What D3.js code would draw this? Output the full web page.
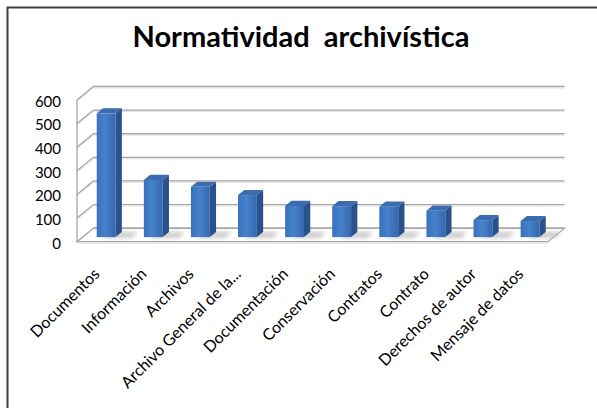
<!DOCTYPE html>
<html>
<head>
<meta charset="utf-8">
<script src="https://cdn.jsdelivr.net/npm/d3@7"></script>
<style>
  html, body { margin: 0; padding: 0; background: #fff; }
  svg { display: block; }
</style>
</head>
<body>
<script>
// data
const title = "Normatividad  archivística";
const categories = [
  "Documentos", "Información", "Archivos", "Archivo General de la...",
  "Documentación", "Conservación", "Contratos", "Contrato",
  "Derechos de autor", "Mensaje de datos"
];
const values = [524, 242, 213, 178, 132, 131, 129, 112, 72, 68];
const yTicks = [0, 100, 200, 300, 400, 500, 600];

const width = 597, height = 408;
const font = "Lato, 'Open Sans', sans-serif";

// 3d box: front plane and depth offset
const depth = { dx: 16.5, dy: -13.5 };
const barFront = 0.34, barDepth = 0.38;

const x = d3.scaleBand().domain(categories).range([77, 548]).padding(0);
const y = d3.scaleLinear().domain([0, 600]).range([241.7, 100]);

const svg = d3.select("body").append("svg")
  .attr("width", width)
  .attr("height", height);

const defs = svg.append("defs");
const grad = defs.append("linearGradient")
  .attr("id", "front").attr("x1", 0).attr("y1", 0).attr("x2", 1).attr("y2", 0);
grad.append("stop").attr("offset", "0%").attr("stop-color", "#3a70bb");
grad.append("stop").attr("offset", "45%").attr("stop-color", "#4682cc");
grad.append("stop").attr("offset", "100%").attr("stop-color", "#3667ad");
defs.append("filter").attr("id", "blur")
  .attr("x", "-50%").attr("y", "-50%").attr("width", "200%").attr("height", "200%")
  .append("feGaussianBlur").attr("stdDeviation", 2.2);

// chart border (only top and left visible in crop)
svg.append("path")
  .attr("d", `M7.5,${height + 5}V7.5H${width + 5}`)
  .attr("fill", "none")
  .attr("stroke", "#3f3f3f")
  .attr("stroke-width", 2);

// title
svg.append("text")
  .attr("x", 301)
  .attr("y", 47)
  .attr("text-anchor", "middle")
  .attr("font-family", font)
  .attr("font-weight", "bold")
  .attr("font-size", 29)
  .attr("fill", "#000")
  .style("white-space", "pre")
  .text(title);

const x0 = x.range()[0], x1 = x.range()[1];
const p = (px, py, t) => [px + depth.dx * t, py + depth.dy * t];
const poly = (pts) => "M" + pts.map((d) => d.join(",")).join("L") + "Z";

// floor
const grid = svg.append("g").attr("fill", "none");
grid.append("path")
  .attr("d", poly([p(x0, y(0), 0), p(x1, y(0), 0), p(x1, y(0), 1), p(x0, y(0), 1)]))
  .attr("fill", "#fff")
  .attr("stroke", "#a6a6a6")
  .attr("stroke-width", 1.3);
grid.append("line")
  .attr("x1", x0).attr("x2", x1)
  .attr("y1", y(0) + 1.5).attr("y2", y(0) + 1.5)
  .attr("stroke", "#dcdcdc");

// gridlines: back wall + side wall
yTicks.forEach((v) => {
  const a = p(x0, y(v), 0), b = p(x0, y(v), 1), c = p(x1, y(v), 1);
  if (v > 0) {
    grid.append("path")
      .attr("d", `M${a}L${b}L${c}`)
      .attr("stroke", "#a3a3a3")
      .attr("stroke-width", 1.3);
    grid.append("path")
      .attr("d", `M${a[0]},${a[1] + 1.5}L${b[0]},${b[1] + 1.5}L${c[0]},${c[1] + 1.5}`)
      .attr("stroke", "#e2e2e2")
      .attr("stroke-width", 1);
  } else {
    grid.append("path")
      .attr("d", `M${b}L${c}`)
      .attr("stroke", "#a3a3a3")
      .attr("stroke-width", 1.3);
  }
});
// side wall front edge
grid.append("line")
  .attr("x1", x0).attr("x2", x0)
  .attr("y1", y(600)).attr("y2", y(0))
  .attr("stroke", "#a6a6a6")
  .attr("stroke-width", 1.3);

// y axis labels
svg.append("g")
  .attr("transform", `translate(61,1.5)`)
  .call(d3.axisLeft(y).tickValues(yTicks).tickSize(0).tickPadding(0))
  .call((g) => g.select(".domain").remove())
  .call((g) => g.selectAll("text")
    .attr("font-family", font)
    .attr("font-size", 15)
    .attr("fill", "#000"));

// bars
const bw = x.bandwidth() * 0.4;
const bars = svg.append("g")
  .selectAll("g")
  .data(categories.map((c, i) => ({ name: c, value: values[i] })))
  .join("g");

bars.each(function (d) {
  const g = d3.select(this);
  const cx = x(d.name) + x.bandwidth() / 2 - bw / 2;
  const [fx, fy0] = p(cx, y(0), barFront);
  const [, fy1] = p(cx, y(d.value), barFront);
  const ox = depth.dx * barDepth, oy = depth.dy * barDepth;

  // floor shadow
  g.append("path")
    .attr("d", poly([[fx + 6, fy0 + 1], [fx + bw + 16, fy0 + 1], [fx + bw + 16 + ox, fy0 + oy], [fx + 6 + ox, fy0 + oy]]))
    .attr("fill", "#bdbdbd")
    .attr("opacity", 0.8)
    .attr("filter", "url(#blur)");
  // side
  g.append("path")
    .attr("d", poly([[fx + bw, fy1], [fx + bw + ox, fy1 + oy], [fx + bw + ox, fy0 + oy], [fx + bw, fy0]]))
    .attr("fill", "#27528c");
  // top
  g.append("path")
    .attr("d", poly([[fx, fy1], [fx + ox, fy1 + oy], [fx + bw + ox, fy1 + oy], [fx + bw, fy1]]))
    .attr("fill", "#3a6cb0");
  // front
  g.append("rect")
    .attr("x", fx).attr("y", fy1)
    .attr("width", bw).attr("height", fy0 - fy1)
    .attr("fill", "url(#front)");
});

// category labels
svg.append("g")
  .selectAll("text")
  .data(categories)
  .join("text")
  .attr("transform", (d) => `translate(${x(d) + x.bandwidth() / 2},275) rotate(-45)`)
  .attr("text-anchor", "end")
  .attr("font-family", font)
  .attr("font-size", 16)
  .attr("fill", "#000")
  .text((d) => d);
</script>
</body>
</html>
